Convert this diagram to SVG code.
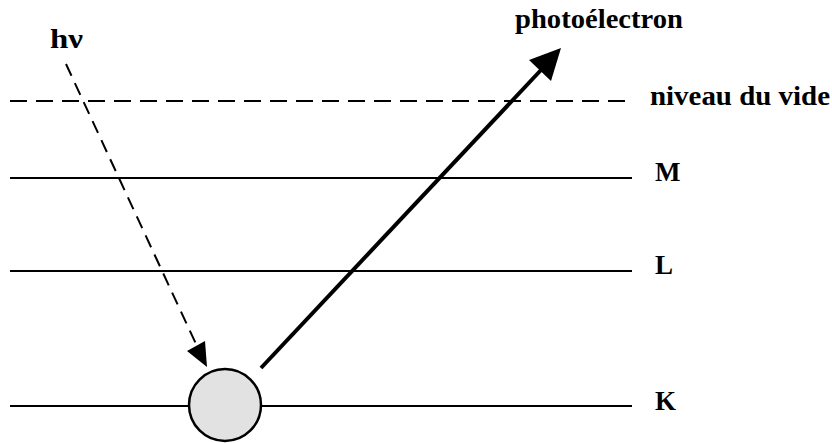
<svg xmlns="http://www.w3.org/2000/svg" width="832" height="443" viewBox="0 0 832 443">
<style>
.lvl{stroke:#000;stroke-width:2;fill:none}
.lbl{font-family:"Liberation Serif",serif;font-weight:bold;font-size:27px;fill:#000}
</style>
<rect width="832" height="443" fill="#fff"/>
<g id="levels">
<line class="lvl" x1="10" y1="101" x2="632" y2="101" stroke-dasharray="17,9"/>
<line class="lvl" x1="10" y1="178" x2="632" y2="178"/>
<line class="lvl" x1="10" y1="271" x2="632" y2="271"/>
<line class="lvl" x1="10" y1="406" x2="632" y2="406"/>
</g>
<g id="atom"><circle cx="225" cy="405" r="36" fill="#e2e2e2" stroke="#000" stroke-width="2.5"/></g>
<g id="connectors">
<line x1="66" y1="64" x2="196" y2="344" stroke="#000" stroke-width="2" stroke-dasharray="13,8"/>
<polygon points="207,367 187,351 205,341" fill="#000"/>
<line x1="261" y1="368" x2="541" y2="70" stroke="#000" stroke-width="4"/>
<polygon points="561,48 551,81 529,60" fill="#000"/>
</g>
<g id="labels">
<text class="lbl" x="50" y="48" textLength="33" lengthAdjust="spacingAndGlyphs">hν</text>
<text class="lbl" x="515" y="28" textLength="168" lengthAdjust="spacingAndGlyphs">photoélectron</text>
<text class="lbl" x="650" y="105" textLength="180" lengthAdjust="spacingAndGlyphs">niveau du vide</text>
<text class="lbl" x="655" y="181">M</text>
<text class="lbl" x="655" y="274">L</text>
<text class="lbl" x="655" y="410">K</text>
</g>
</svg>
